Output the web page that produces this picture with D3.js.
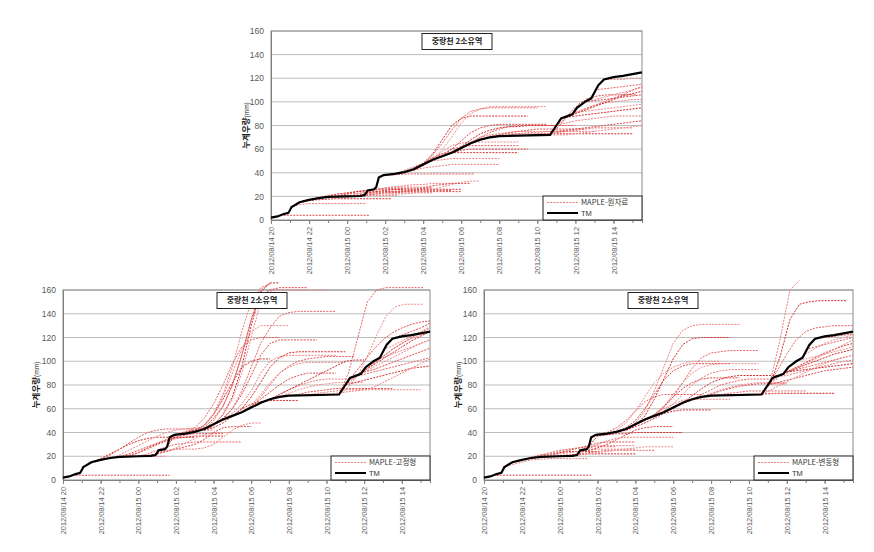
<!DOCTYPE html>
<html><head><meta charset="utf-8">
<script src="https://cdn.jsdelivr.net/npm/d3@7"></script>
<style>body{margin:0;background:#fff}svg{display:block}</style>
</head><body>
<svg id="chart" width="874" height="552"></svg>
<script>
// ---------------- DATA ----------------
const titleText = "중랑천 2소유역";
const yLabelMain = "누계우량";
const yLabelUnit = "(mm)";
const legendNames = ["MAPLE-원자료", "MAPLE-고정형", "MAPLE-변동형"];
const tmName = "TM";
const yTickValues = [0, 20, 40, 60, 80, 100, 120, 140, 160];
const timeStart = "2012-08-14 20:00";
const timeEnd = "2012-08-15 15:30";
const forecastStepMinutes = 30;

const tmTimes = ["2012-08-14 20:00","2012-08-14 20:20","2012-08-14 20:40","2012-08-14 20:55","2012-08-14 21:05","2012-08-14 21:30","2012-08-14 22:00","2012-08-14 22:30","2012-08-14 23:00","2012-08-15 00:00","2012-08-15 00:40","2012-08-15 00:55","2012-08-15 01:05","2012-08-15 01:25","2012-08-15 01:32","2012-08-15 01:40","2012-08-15 01:55","2012-08-15 02:30","2012-08-15 03:00","2012-08-15 03:30","2012-08-15 04:00","2012-08-15 04:30","2012-08-15 05:00","2012-08-15 05:30","2012-08-15 06:00","2012-08-15 06:30","2012-08-15 07:00","2012-08-15 07:30","2012-08-15 08:00","2012-08-15 10:40","2012-08-15 11:00","2012-08-15 11:15","2012-08-15 11:50","2012-08-15 12:05","2012-08-15 12:30","2012-08-15 12:50","2012-08-15 13:00","2012-08-15 13:12","2012-08-15 13:30","2012-08-15 14:00","2012-08-15 14:30","2012-08-15 15:00","2012-08-15 15:30"];
const tmValues = [2,3,5,6,11,15,17,18.5,19.5,20,20.3,21,25,26,28,36,38,39,40.5,43,47,51,54,57,61,65,68,70,71,72,80,86,89.5,95,100,103,108,114,119,121,122,123.5,125];

// MAPLE-원자료 (raw) forecasts: start time, cumulative values every 30 min
const rawSeries = [
  ["2012-08-14 20:40",[4,4,4,4,4,4,4,4,4,4]],
  ["2012-08-14 21:00",[11,13,14,14,14,14,14,14,14]],
  ["2012-08-14 21:20",[14,16,17,17.5,18,18,18,18,18,18,18]],
  ["2012-08-14 21:40",[16,18,19,20,20,20.5,21,21,21,21,21]],
  ["2012-08-14 22:00",[17,19,21,22,23,24,24,24,24.5,24.5,25]],
  ["2012-08-14 22:30",[18,20,22,23,24,25,26,26,26,26]],
  ["2012-08-14 23:00",[19.5,21,22,22.5,23,23,23,23,23,23,23,23]],
  ["2012-08-14 23:30",[19.8,22,24,25,26,27,27,27,27,27,27]],
  ["2012-08-15 00:00",[20,21,22,23,24,24,25,25,25,25,25,25]],
  ["2012-08-15 00:00",[20,22,24,26,27,28,28,28,28,28]],
  ["2012-08-15 00:30",[20.2,21,22,23,23,24,24,24,24,24,24,24]],
  ["2012-08-15 01:00",[23,25,27,28,29,30,30,31,31,31,31]],
  ["2012-08-15 01:00",[23,24,25,26,26,26,26,26,26,26,26]],
  ["2012-08-15 01:40",[37,38,38.5,39,39,39,39,39,39,39,39]],
  ["2012-08-15 01:30",[22,22,22,22,23,24,26,28,30,32,33,33]],
  ["2012-08-15 02:00",[24,24,24,25,27,29,30,31,31,31]],
  ["2012-08-15 02:30",[39,42,45,48,50,51,52,52,52,52,52,52]],
  ["2012-08-15 03:00",[40,44,48,53,56,57,57,57,57,57,57,57,57]],
  ["2012-08-15 03:30",[42,46,51,56,60,62,63,63,63,63,63,63]],
  ["2012-08-15 04:00",[47,52,58,63,65,66,66,66,66,66,66]],
  ["2012-08-15 04:30",[51,54,57,59,60,60,60,60,60,60,60]],
  ["2012-08-15 03:00",[40,42,44,45,46,47,47,47,47,47,47]],
  ["2012-08-15 03:30",[42,48,56,68,80,86,88,88,88,88,88,88,88]],
  ["2012-08-15 04:00",[47,55,65,76,86,92,94,95,95,95,95,95,95]],
  ["2012-08-15 04:30",[51,60,70,82,90,94,96,96,96,96,96,96,96]],
  ["2012-08-15 05:00",[54,60,67,74,78,80,81,81,81,81,81,81]],
  ["2012-08-15 05:00",[54,58,62,66,70,72,73,73,73,73,73,73]],
  ["2012-08-15 05:30",[57,62,68,73,76,78,79,79,80,80,80,80]],
  ["2012-08-15 06:00",[61,65,70,74,77,79,80,80,80,80,80,80,80]],
  ["2012-08-15 06:30",[65,68,71,73,74,75,75,75,75,75,75]],
  ["2012-08-15 07:00",[68,70,72,74,75,76,77,77,77,77,77,77]],
  ["2012-08-15 08:00",[71,72,73,74,74,75,75,75,75,75,75]],
  ["2012-08-15 09:00",[71.5,72,72.5,73,73,73,73,73,73,73,73,73,73]],
  ["2012-08-15 09:30",[72,72.5,73,74,75,76,77,78,78,78,78,78]],
  ["2012-08-15 10:00",[72,72,72,72,73,74,75,76,77,78,79,80]],
  ["2012-08-15 10:40",[72,80,90,98,103,105,106,106,106,106]],
  ["2012-08-15 11:00",[80,86,90,94,97,99,100,101,102,102]],
  ["2012-08-15 11:30",[87,90,93,96,99,102,105,107,109]],
  ["2012-08-15 12:00",[91,94,97,100,103,106,110,113]],
  ["2012-08-15 12:30",[100,102,104,106,108,110,112]],
  ["2012-08-15 12:30",[100,101,102,103,104,105,106]],
  ["2012-08-15 11:00",[80,82,84,85,86,87,88,88,88,88]],
  ["2012-08-15 11:30",[87,88,89,90,91,92,93,94,95]],
  ["2012-08-15 13:00",[110,111,112,113,114,115]],
  ["2012-08-15 12:00",[91,92,93,94,95,96,97,98]],
  ["2012-08-15 11:00",[75,76,77,78,79,80,81,82,83,84]],
  ["2012-08-15 13:30",[119,119,119,120,120]]
];

// MAPLE-고정형 (fixed) forecasts
const fixedSeries = [
  ["2012-08-14 20:40",[4,4,4,4,4,4,4,4,4,4,4]],
  ["2012-08-14 21:00",[11,14,17,19,20,20,20,20,20,20]],
  ["2012-08-14 21:30",[15,18,22,26,30,33,35,36,36,36,36,36]],
  ["2012-08-14 22:00",[17,21,26,31,36,40,42,43,43,43,43,43]],
  ["2012-08-14 22:30",[18,21,25,29,33,37,40,42,43,44,44,44]],
  ["2012-08-14 23:00",[19.5,22,25,28,31,34,36,38,39,39,39,39]],
  ["2012-08-14 23:00",[19.5,21,23,26,30,34,38,41,42,42,42]],
  ["2012-08-14 23:30",[19.8,23,27,30,33,35,36,37,37,37,37]],
  ["2012-08-15 00:00",[20,22,25,28,30,31,32,32,32,32,32,32]],
  ["2012-08-15 00:00",[20,21,22,24,27,31,35,38,40,40,40]],
  ["2012-08-15 00:30",[20.2,22,24,26,28,30,34,40,44,45,45,45]],
  ["2012-08-15 01:00",[23,25,26,26,26,27,30,36,42,46,48,48]],
  ["2012-08-15 01:30",[28,38,40,42,46,55,68,82,95,100,102,102]],
  ["2012-08-15 02:00",[38.5,40,44,52,64,80,98,112,118,120,120,120]],
  ["2012-08-15 02:30",[39,41,45,55,70,90,110,125,130,130,130,130]],
  ["2012-08-15 03:00",[40.5,44,52,62,80,105,135,155,160,162,162,162,162]],
  ["2012-08-15 03:00",[40.5,46,56,72,95,125,150,162,165]],
  ["2012-08-15 03:30",[42,46,55,70,95,130,158,166,166]],
  ["2012-08-15 03:30",[42,50,62,80,105,135,160,166]],
  ["2012-08-15 04:00",[47,55,68,90,120,150,159,160,160,160,160,160,160]],
  ["2012-08-15 04:00",[47,52,60,72,88,105,115,118,118,118,118,118]],
  ["2012-08-15 04:30",[51,56,64,75,90,100,104,105,105,105,105,105,105]],
  ["2012-08-15 05:00",[54,60,70,82,95,103,107,108,108,108,108,108,108]],
  ["2012-08-15 05:30",[57,62,70,80,90,96,100,102,103,104,104,104,104]],
  ["2012-08-15 05:30",[57,63,72,82,90,95,98,99,99,99,99,99]],
  ["2012-08-15 05:00",[54,57,62,68,74,80,85,88,90,90,90,90]],
  ["2012-08-15 06:00",[61,64,68,72,76,79,82,84,85,85,85,85]],
  ["2012-08-15 06:30",[65,68,72,76,80,84,88,92,96,100,101,101]],
  ["2012-08-15 04:30",[51,60,75,95,115,128,138,141,142,142,142,142,142]],
  ["2012-08-15 07:00",[68,70,73,76,78,80,81,82,82,82,82]],
  ["2012-08-15 08:00",[71,72,74,75,76,77,77,77,77,77,77,77]],
  ["2012-08-15 09:00",[71.5,73,74,75,76,76,76,76,76,76,76,76,76]],
  ["2012-08-15 03:30",[42,44,48,54,60,64,66,67,67,67,67]],
  ["2012-08-15 10:40",[72,90,120,150,160,162,162,162,162,162]],
  ["2012-08-15 10:40",[72,78,88,104,122,138,146,148,148,148]],
  ["2012-08-15 11:00",[80,90,100,110,118,124,128,131,133,134]],
  ["2012-08-15 11:00",[80,86,92,98,104,110,115,119,122,125]],
  ["2012-08-15 11:30",[87,92,97,102,107,112,117,121,125]],
  ["2012-08-15 11:30",[87,92,98,104,110,115,120,124,128]],
  ["2012-08-15 12:00",[91,95,99,103,107,111,115,118]],
  ["2012-08-15 12:00",[91,93,96,99,102,105,108,111]],
  ["2012-08-15 12:30",[100,103,106,109,112,115,118]],
  ["2012-08-15 11:00",[80,82,84,86,88,90,92,94,95,96]],
  ["2012-08-15 11:30",[87,89,91,93,95,97,99,101,103]],
  ["2012-08-15 13:00",[110,113,117,121,125,129]],
  ["2012-08-15 13:30",[119,122,125,128,132]],
  ["2012-08-15 10:00",[72,73,74,75,76,78,82,86,90,94,98,102]]
];

// MAPLE-변동형 (variable) forecasts
const variableSeries = [
  ["2012-08-14 20:40",[4,4,4,4,4,4,4,4,4,4,4]],
  ["2012-08-14 21:00",[11,13,15,17,17.5,18,18,18,18,18]],
  ["2012-08-14 21:30",[15,17,19,21,22,23,24,24,24,24]],
  ["2012-08-14 22:00",[17,19,21,23,25,26,27,28,28,28,28]],
  ["2012-08-14 22:30",[18,20,22,24,26,27,28,29,29,29,29,29]],
  ["2012-08-14 23:00",[19.5,21,23,25,27,29,31,32,32,32,32]],
  ["2012-08-14 23:00",[19.5,21,22,23,24,25,26,26,26,26,26]],
  ["2012-08-14 23:30",[19.8,20.5,21,21.5,22,22,22,22,22,22]],
  ["2012-08-15 00:00",[20,21,22,23,24,25,25,25,25,25,25]],
  ["2012-08-15 00:30",[20.2,21,22,23,24,25,26,27,28,28,28,28]],
  ["2012-08-15 01:00",[23,25,27,30,34,38,42,44,45,45,45]],
  ["2012-08-15 01:00",[23,26,30,33,35,36,36,36,36,36,36]],
  ["2012-08-15 01:30",[28,37,38,39,39,40,40,40,40,40,40]],
  ["2012-08-15 02:00",[38.5,40,44,50,58,66,70,72,72,72,72,72]],
  ["2012-08-15 02:30",[39,42,48,58,70,82,90,95,98,100,100,100,100]],
  ["2012-08-15 03:00",[40.5,44,50,60,72,84,92,96,98,98,98,98,98]],
  ["2012-08-15 03:30",[42,48,58,75,95,115,126,130,131,131,131,131,131]],
  ["2012-08-15 03:30",[42,46,54,68,85,102,114,119,120,120,120,120]],
  ["2012-08-15 04:30",[51,55,61,70,82,94,103,107,108,109,109,109,109]],
  ["2012-08-15 04:30",[51,55,62,72,82,90,95,97,98,98,98,98,98]],
  ["2012-08-15 04:00",[47,50,55,62,70,77,82,85,86,86,86,86]],
  ["2012-08-15 05:00",[54,58,64,72,80,86,90,92,93,93,93,93]],
  ["2012-08-15 05:30",[57,60,65,71,77,82,85,87,88,88,88,88,88]],
  ["2012-08-15 06:00",[61,64,68,72,76,80,82,84,85,85,85,85]],
  ["2012-08-15 06:30",[65,67,70,73,76,78,80,81,82,82,82,82]],
  ["2012-08-15 07:00",[68,70,72,75,77,79,80,81,81,81,81]],
  ["2012-08-15 04:00",[47,50,55,60,64,67,68,68,68,68,68]],
  ["2012-08-15 03:00",[40.5,42,45,48,52,56,58,59,59,59,59]],
  ["2012-08-15 08:00",[71,72,73,74,75,75,75,75,75,75,75]],
  ["2012-08-15 09:00",[71.5,72,72.5,73,73,73,73,73,73,73,73,73]],
  ["2012-08-15 10:00",[72,72,72.5,73,73,73,73,73,73,73]],
  ["2012-08-15 10:40",[72,85,120,160,168]],
  ["2012-08-15 10:40",[72,82,105,135,148,150,151,151,151,151]],
  ["2012-08-15 11:00",[80,92,106,118,125,128,129,130,130,130]],
  ["2012-08-15 11:00",[80,86,93,100,106,111,115,118,120,122]],
  ["2012-08-15 11:30",[87,91,95,99,103,107,110,113,115]],
  ["2012-08-15 11:30",[87,90,94,98,102,106,110,114,118]],
  ["2012-08-15 12:00",[91,94,97,100,103,106,108,110]],
  ["2012-08-15 12:00",[91,93,95,97,99,101,103,105]],
  ["2012-08-15 12:30",[100,102,104,106,108,110,112]],
  ["2012-08-15 11:00",[80,82,84,86,88,90,92,93,94,95]],
  ["2012-08-15 11:30",[87,88,90,92,94,96,98,100,101]],
  ["2012-08-15 12:00",[91,92,93,94,95,96,97,98]],
  ["2012-08-15 13:00",[110,112,114,116,118,120]],
  ["2012-08-15 10:40",[72,76,80,84,88,92,96,99,102,104]],
  ["2012-08-15 13:30",[119,120,121,122,123]]
];

// ---------------- LAYOUT ----------------
const panels = [
  {series: rawSeries, legend: legendNames[0], left: 271, right: 642, top: 31, bottom: 220, titleCx: 457, yLabelX: 243},
  {series: fixedSeries, legend: legendNames[1], left: 63, right: 430, top: 290, bottom: 480, titleCx: 252, yLabelX: 33},
  {series: variableSeries, legend: legendNames[2], left: 484, right: 853, top: 290, bottom: 480, titleCx: 663, yLabelX: 455}
];

const parse = d3.timeParse("%Y-%m-%d %H:%M");
const fmt = d3.timeFormat("%Y/%m/%d %H");
const t0 = parse(timeStart), t1 = parse(timeEnd);
const tmData = tmTimes.map((t, i) => ({t: parse(t), v: tmValues[i]}));
const redColors = ["#e04848", "#ee7d7d", "#d42c2c", "#e86262", "#f08c8c"];
const svg = d3.select("#chart");
const numFont = "'Liberation Sans', Arial, sans-serif";
const krFont = "'Noto Sans CJK KR', 'Noto Sans', sans-serif";

panels.forEach(p => {
  const x = d3.scaleTime().domain([t0, t1]).range([p.left, p.right]);
  const y = d3.scaleLinear().domain([0, 160]).range([p.bottom, p.top]);
  const g = svg.append("g");

  // grid
  g.append("g").selectAll("line").data(yTickValues.filter(v => v > 0)).join("line")
    .attr("x1", p.left).attr("x2", p.right)
    .attr("y1", d => y(d)).attr("y2", d => y(d))
    .attr("stroke", "#bdbdbd").attr("stroke-width", 1);
  // frame
  g.append("rect").attr("x", p.left).attr("y", p.top)
    .attr("width", p.right - p.left).attr("height", p.bottom - p.top)
    .attr("fill", "none").attr("stroke", "#8a8a8a").attr("stroke-width", 1);

  // y axis
  const ya = g.append("g").attr("transform", `translate(${p.left},0)`)
    .call(d3.axisLeft(y).tickValues(yTickValues).tickSize(0).tickPadding(7));
  ya.select(".domain").attr("stroke", "#808080");
  ya.selectAll("text").attr("font-family", numFont).attr("font-size", 8.5).attr("fill", "#595959");

  // x axis minor ticks
  const xm = g.append("g").attr("transform", `translate(0,${p.bottom})`)
    .call(d3.axisBottom(x).ticks(d3.timeHour.every(1)).tickSize(3).tickFormat(""));
  xm.select(".domain").attr("stroke", "#808080");
  xm.selectAll("line").attr("stroke", "#808080");
  // x axis major ticks with labels
  const xa = g.append("g").attr("transform", `translate(0,${p.bottom})`)
    .call(d3.axisBottom(x).ticks(d3.timeHour.every(2)).tickSize(4).tickFormat(fmt));
  xa.select(".domain").remove();
  xa.selectAll("line").attr("stroke", "#808080");
  xa.selectAll("text")
    .attr("transform", "rotate(-90)")
    .attr("text-anchor", "end")
    .attr("x", -7).attr("y", 0).attr("dy", "0.35em")
    .attr("font-family", numFont).attr("font-size", 7.4).attr("fill", "#595959");

  // MAPLE series
  const line = d3.line().x(d => x(d.t)).y(d => y(d.v));
  p.series.forEach((s, i) => {
    const st = parse(s[0]);
    const pts = s[1].map((v, k) => ({t: d3.timeMinute.offset(st, k * forecastStepMinutes), v}))
      .filter(d => d.t <= t1);
    g.append("path").datum(pts).attr("d", line)
      .attr("fill", "none").attr("stroke", redColors[i % redColors.length])
      .attr("stroke-width", 1).attr("stroke-dasharray", "2,1.2");
  });
  // TM
  g.append("path").datum(tmData).attr("d", line)
    .attr("fill", "none").attr("stroke", "#000").attr("stroke-width", 2.2);

  // title box
  const tw = 70, th = 16;
  g.append("rect").attr("x", p.titleCx - tw / 2).attr("y", p.top + 2.5).attr("width", tw).attr("height", th)
    .attr("fill", "#fff").attr("stroke", "#222").attr("stroke-width", 1);
  g.append("text").attr("x", p.titleCx).attr("y", p.top + 2.5 + th / 2).attr("dy", "0.35em")
    .attr("text-anchor", "middle").attr("font-family", krFont).attr("font-size", 8)
    .attr("font-weight", "bold").attr("fill", "#222").text(titleText);

  // y label
  const yl = g.append("text")
    .attr("transform", `translate(${p.yLabelX},${(p.top + p.bottom) / 2}) rotate(-90)`)
    .attr("text-anchor", "middle").attr("dy", "0.35em").attr("fill", "#222");
  yl.append("tspan").attr("font-family", krFont).attr("font-size", 8.5).attr("font-weight", "bold").text(yLabelMain);
  yl.append("tspan").attr("font-family", numFont).attr("font-size", 6.5).text(yLabelUnit);

  // legend
  const lw = 99, lh = 24;
  const lx = p.right - lw, ly = p.bottom - lh;
  g.append("rect").attr("x", lx).attr("y", ly).attr("width", lw).attr("height", lh)
    .attr("fill", "#fff").attr("stroke", "#222").attr("stroke-width", 1);
  g.append("line").attr("x1", lx + 4).attr("x2", lx + 35).attr("y1", ly + 6.5).attr("y2", ly + 6.5)
    .attr("stroke", "#e57a7a").attr("stroke-width", 1).attr("stroke-dasharray", "2,1.2");
  g.append("text").attr("x", lx + 38).attr("y", ly + 6.5).attr("dy", "0.35em")
    .attr("font-family", krFont).attr("font-size", 7.5).attr("fill", "#333").text(p.legend);
  g.append("line").attr("x1", lx + 4).attr("x2", lx + 35).attr("y1", ly + 17).attr("y2", ly + 17)
    .attr("stroke", "#000").attr("stroke-width", 2);
  g.append("text").attr("x", lx + 38).attr("y", ly + 17).attr("dy", "0.35em")
    .attr("font-family", numFont).attr("font-size", 7.5).attr("fill", "#333").text(tmName);
});
</script>
</body></html>
